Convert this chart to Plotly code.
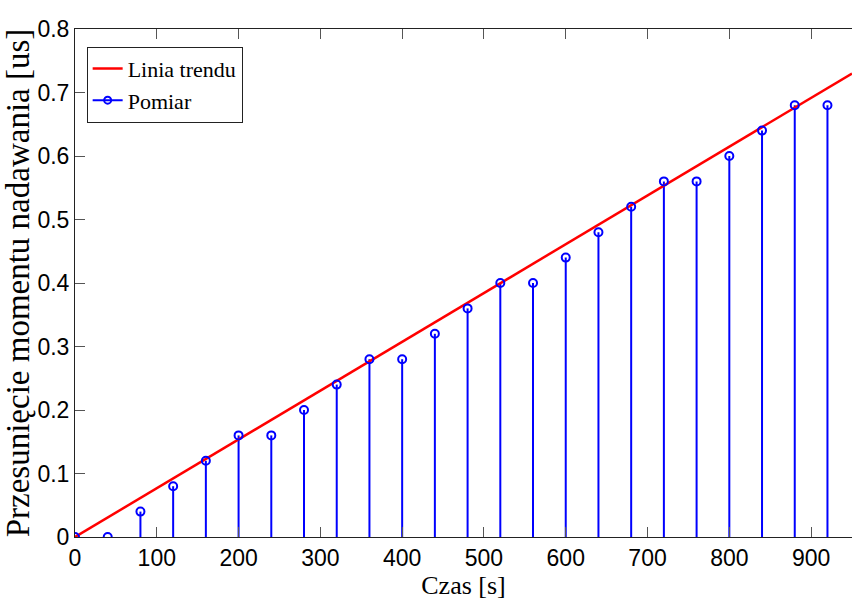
import plotly.graph_objects as go

czas = [0, 40, 80, 120, 160, 200, 240, 280, 320, 360, 400, 440, 480, 520,
        560, 600, 640, 680, 720, 760, 800, 840, 880, 920]
pomiar = [0.0, 0.0, 0.04, 0.08, 0.12, 0.16, 0.16, 0.20, 0.24, 0.28, 0.28, 0.32,
          0.36, 0.40, 0.40, 0.44, 0.48, 0.52, 0.56, 0.56, 0.60, 0.64, 0.68, 0.68]
trend_x = [0, 950]
trend_y = [0.0, 0.73]
x_ticks = [0, 100, 200, 300, 400, 500, 600, 700, 800, 900]
y_ticks = [0, 0.1, 0.2, 0.3, 0.4, 0.5, 0.6, 0.7, 0.8]
y_tick_text = ["0", "0.1", "0.2", "0.3", "0.4", "0.5", "0.6", "0.7", "0.8"]

stem_x, stem_y = [], []
for xv, yv in zip(czas, pomiar):
    stem_x += [xv, xv, None]
    stem_y += [0, yv, None]

fig = go.Figure()
fig.add_trace(go.Scatter(x=stem_x, y=stem_y, mode="lines",
                         line=dict(color="#0000ff", width=2),
                         showlegend=False, hoverinfo="skip"))
fig.add_trace(go.Scatter(x=trend_x, y=trend_y, mode="lines", name="Linia trendu",
                         line=dict(color="#ff0000", width=2.5)))
fig.add_trace(go.Scatter(x=czas, y=pomiar, mode="markers", showlegend=False,
                         marker=dict(symbol="circle-open", size=8,
                                     color="#0000ff", line=dict(width=2))))
fig.add_trace(go.Scatter(x=[None], y=[None], mode="lines+markers", name="Pomiar",
                         line=dict(color="#0000ff", width=2),
                         marker=dict(symbol="circle-open", size=7,
                                     color="#0000ff", line=dict(width=2))))

tick_font = dict(family="Liberation Sans, Arial, sans-serif", size=23, color="black")
serif = "Liberation Serif, Times New Roman, serif"

fig.update_layout(
    width=852, height=604,
    margin=dict(l=75, r=0, t=29, b=67),
    paper_bgcolor="white", plot_bgcolor="white",
    showlegend=True,
    legend=dict(x=0.015, y=0.965, xanchor="left", yanchor="top",
                bgcolor="white", bordercolor="#222222", borderwidth=1,
                font=dict(family=serif, size=22, color="black"),
                tracegroupgap=0, itemwidth=30),
    xaxis=dict(range=[0, 950], tickvals=x_ticks, ticks="inside", ticklen=10,
               tickcolor="#555555", showline=True, linecolor="#222222",
               linewidth=1, mirror="ticks", showgrid=False, zeroline=False,
               automargin=False, tickfont=tick_font,
               title=dict(text="Czas [s]", font=dict(family=serif, size=26, color="black"),
                          standoff=4)),
    yaxis=dict(range=[0, 0.8], tickvals=y_ticks, ticktext=y_tick_text,
               ticks="inside", ticklen=10,
               tickcolor="#555555", showline=True, linecolor="#222222",
               linewidth=1, mirror=False, showgrid=False, zeroline=False,
               automargin=False, tickfont=tick_font,
               title=dict(text="Przesunięcie momentu nadawania [us]",
                          font=dict(family=serif, size=33, color="black"),
                          standoff=0)),
)

fig.write_html("out.html", config={"displayModeBar": False},
               post_script="document.body.style.margin='0';document.body.style.overflow='hidden';")
